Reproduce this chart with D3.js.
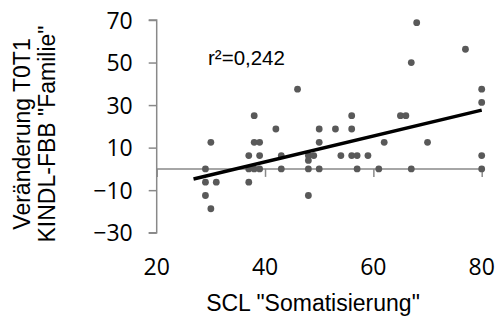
<!DOCTYPE html>
<html>
<head>
<meta charset="utf-8">
<script src="https://cdn.jsdelivr.net/npm/d3@7"></script>
<style>
  body { margin: 0; background: #fff; }
  text { font-family: "Liberation Sans", Arial, sans-serif; }
  .tickLabel { font-family: "Open Sans", "Liberation Sans", sans-serif; }
</style>
</head>
<body>
<svg></svg>
<script>
// SCL-Wert und Veränderung KINDL "Familie"
const sclWerte = [29, 29, 29, 30, 30, 31, 37, 37, 37, 38, 38, 38, 39, 39, 39, 42, 43, 43, 46,
  48, 49, 48, 48, 48, 50, 50, 50, 53, 54, 56, 56, 56, 57, 57, 59,
  61, 62, 65, 66, 67, 67, 68, 70, 77, 80, 80, 80, 80]
const veraenderung = [0, -6.25, -12.5, -18.75, 12.5, -6.25, 6.25, 0, -6.25, 25, 12.5, 0, 12.5, 6.25, 0, 18.75, 6.25, 0, 37.5,
  6.25, 6.25, 4, 0, -12.5, 0, 12.5, 18.75, 18.75, 6.25, 25, 18.75, 6.25, 6.25, 0, 6.25,
  0, 12.5, 25, 25, 50, 0, 68.75, 12.5, 56.25, 37.5, 31.25, 6.25, 0]

const xTicks = [20, 40, 60, 80]
const yTicks = [-30, -10, 10, 30, 50, 70]

// lineare Trendlinie
const trendX = [26.8, 80]
const steigung = 0.609
const achsenabschnitt = -21.1
const rQuadrat = "r²=0,242"

const width = 497
const height = 322
const svg = d3.select('svg')
    .attr("width", width)
    .attr("height", height)

const punkte = sclWerte.map((x, i) => ({ x: x, y: veraenderung[i] }))

const x = d3.scaleLinear().domain([20, 80]).range([156.7, 481.7])
const y = d3.scaleLinear().domain([-30, 70]).range([232.7, 20])

const grau = "#898989"

// y-Achse
const yAchse = svg.append('g')
    .attr("transform", `translate(${x(20)},0)`)
    .call(d3.axisLeft(y).tickValues(yTicks).tickSize(8).tickPadding(16))
yAchse.select(".domain").attr("stroke", grau).attr("stroke-width", 1.5).attr("d", `M-8,${y(-30)}H0V${y(70)}H-8`)
yAchse.selectAll(".tick line").attr("stroke", grau).attr("stroke-width", 1.5)
yAchse.selectAll(".tick text")
    .attr("class", "tickLabel")
    .attr("fill", "#000")
    .style("font-size", "23px")
    .attr("dy", "0.36em")

// x-Achse auf Höhe 0
const xAchse = svg.append('g')
    .attr("transform", `translate(0,${y(0)})`)
    .call(d3.axisBottom(x).tickValues(xTicks).tickSize(8).tickFormat(""))
xAchse.select(".domain").attr("stroke", grau).attr("stroke-width", 1.5).attr("d", `M${x(20)},0H${x(80)}`)
xAchse.selectAll(".tick line").attr("stroke", grau).attr("stroke-width", 1.5)

// x-Beschriftungen unterhalb der Grafik
svg.append('g')
    .selectAll('text')
    .data(xTicks)
    .enter()
    .append('text')
    .attr("class", "tickLabel")
    .attr("x", d => x(d))
    .attr("y", 275)
    .attr("text-anchor", "middle")
    .style("font-size", "23px")
    .text(d => d)

// Punkte
svg.append('g')
    .selectAll('circle')
    .data(punkte)
    .enter()
    .append('circle')
    .attr("cx", d => x(d.x))
    .attr("cy", d => y(d.y))
    .attr("r", 3.4)
    .attr("fill", "#595959")

// Trendlinie
svg.append('line')
    .attr("x1", x(trendX[0]))
    .attr("y1", y(achsenabschnitt + steigung * trendX[0]))
    .attr("x2", x(trendX[1]))
    .attr("y2", y(achsenabschnitt + steigung * trendX[1]))
    .attr("stroke", "#000")
    .attr("stroke-width", 3.5)

svg.append('text')
    .attr("x", 208)
    .attr("y", 65)
    .style("font-size", "20.5px")
    .text(rQuadrat)

// Achsentitel
svg.append('text')
    .attr("x", 313)
    .attr("y", 311)
    .attr("text-anchor", "middle")
    .style("font-size", "23px")
    .text('SCL "Somatisierung"')

const yTitel = svg.append('text')
    .attr("transform", "translate(0,134) rotate(-90)")
    .attr("text-anchor", "middle")
    .style("font-size", "23px")
yTitel.append('tspan').attr("x", 0).attr("y", 30).text("Veränderung T0T1")
yTitel.append('tspan').attr("x", 0).attr("y", 55).text('KINDL-FBB "Familie"')
</script>
</body>
</html>
